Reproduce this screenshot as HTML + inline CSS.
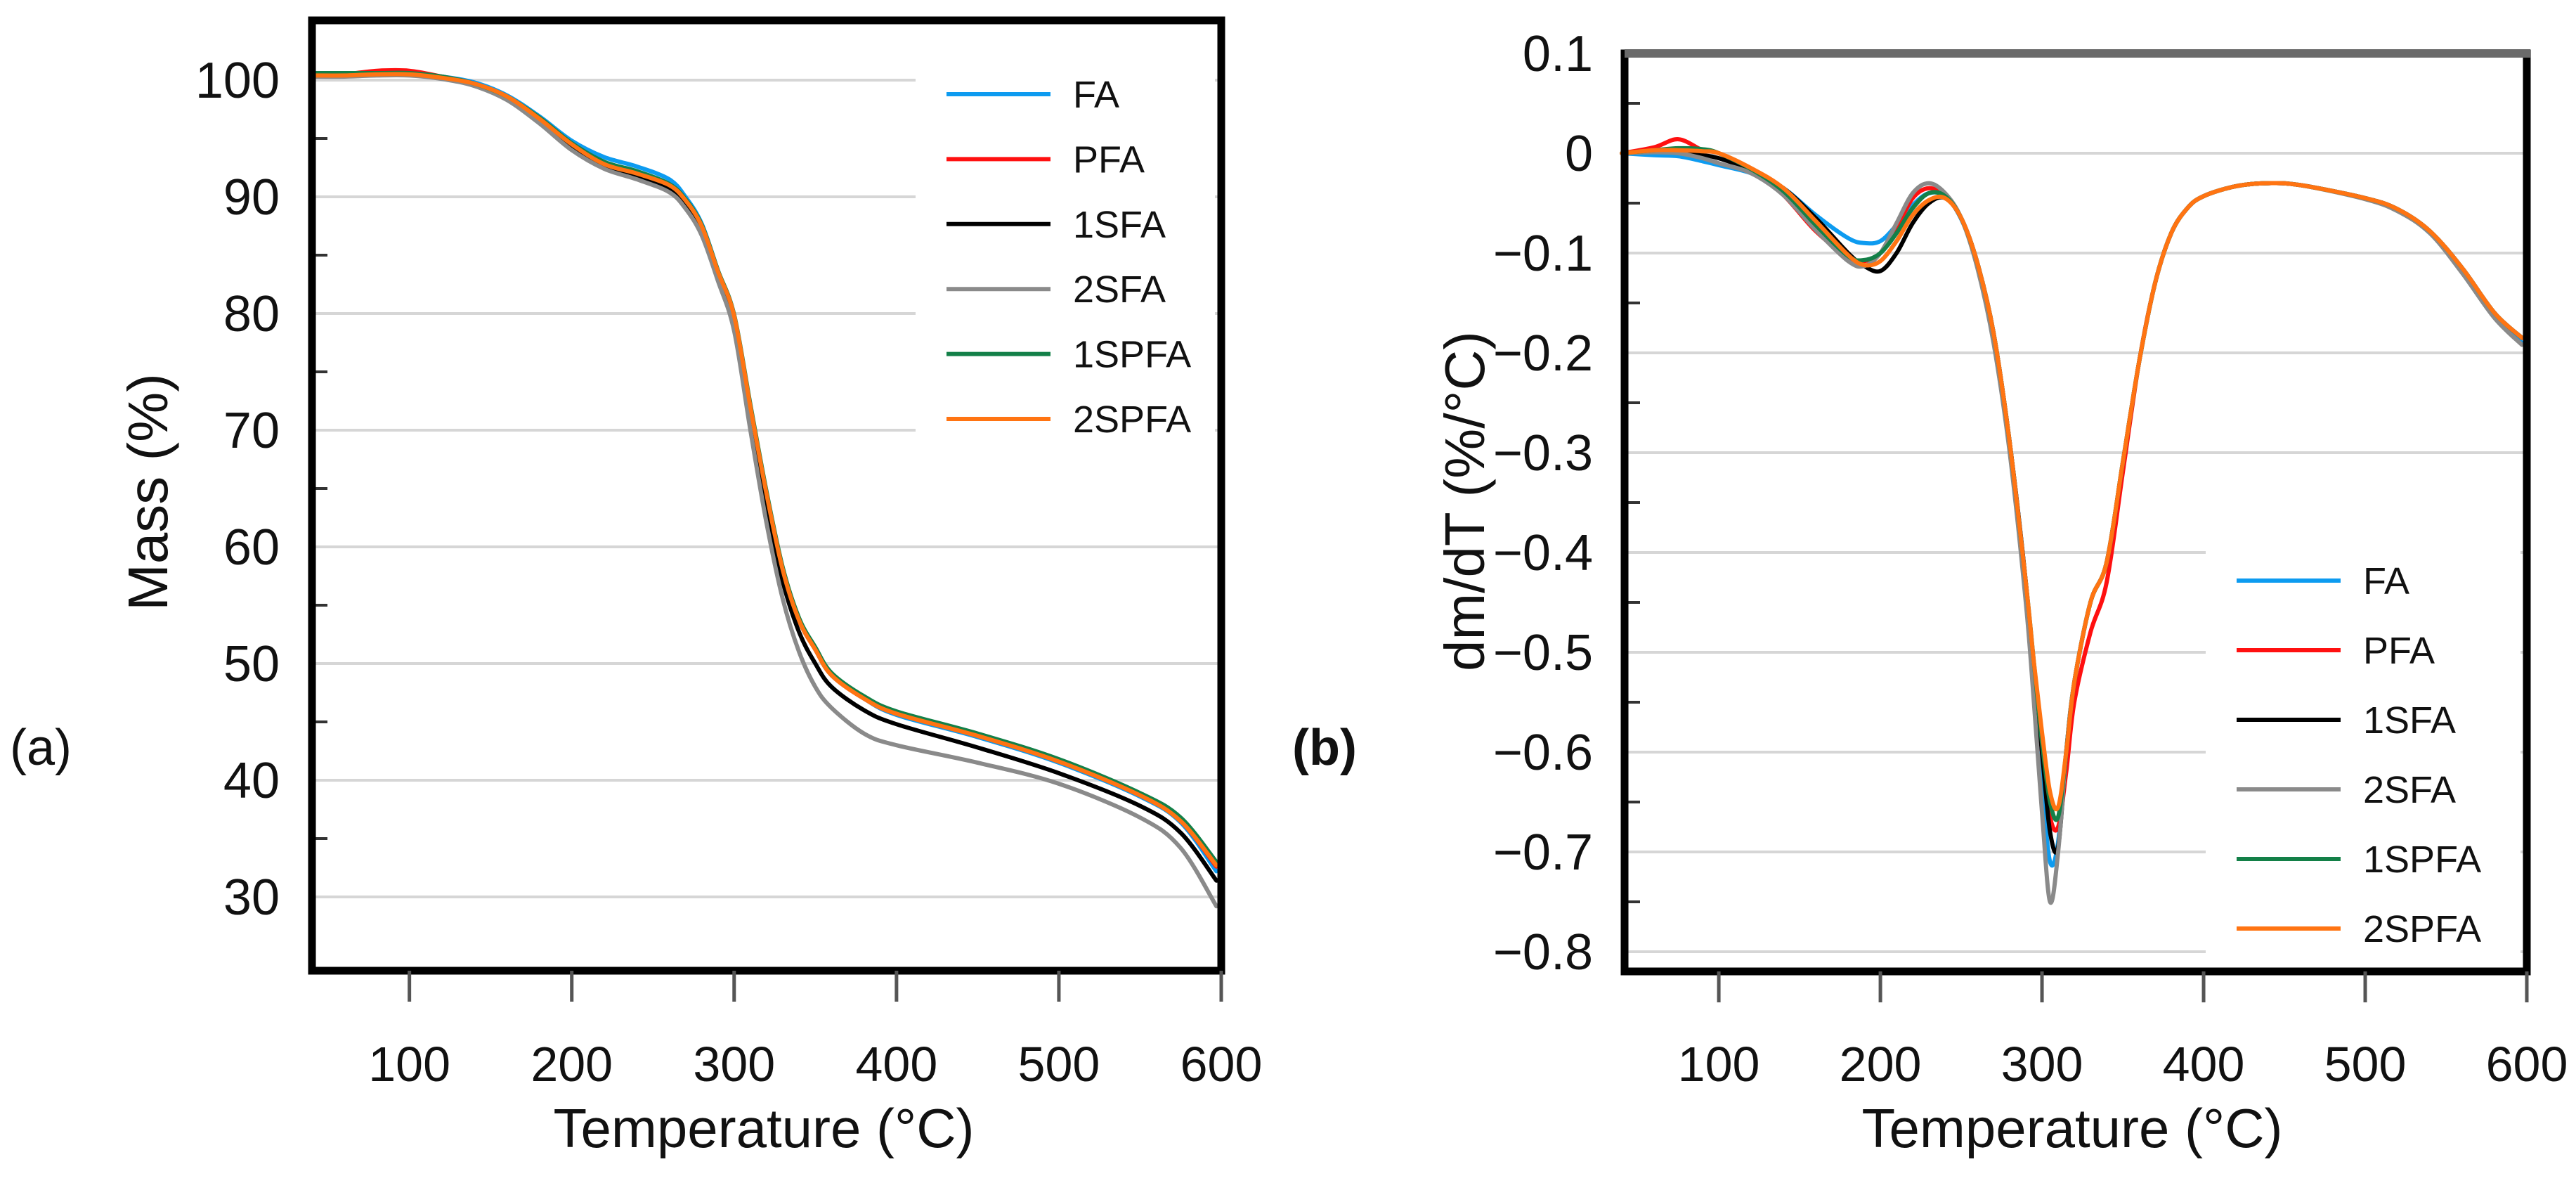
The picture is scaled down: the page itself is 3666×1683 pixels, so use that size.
<!DOCTYPE html>
<html><head><meta charset="utf-8"><style>
html,body{margin:0;padding:0;background:#fff;}
svg{display:block;}
text{font-family:"Liberation Sans",sans-serif;fill:#111;}
</style></head><body>
<svg id="fig" width="3666" height="1683" viewBox="0 0 3666 1683" xmlns="http://www.w3.org/2000/svg"></svg>
<script>
// ---------- data ----------
const seriesNames = ["FA","PFA","1SFA","2SFA","1SPFA","2SPFA"];
const seriesColors = ["#0d9bf0","#ff1010","#000000","#8a8a8a","#138048","#ff7412"];

const tgaTemps = [40,60,80,100,120,140,160,180,200,220,240,260,270,280,290,300,310,320,330,340,350,360,380,400,450,500,550,575,597];
const tgaFA    = [100.5,100.5,100.6,100.6,100.3,99.8,98.7,96.9,94.8,93.4,92.6,91.5,90.0,87.7,83.7,79.8,72,64.5,58,53.7,51.2,49,47,45.6,43.7,41.5,38.6,36.4,32.2];
const tgaPFA   = [100.4,100.5,100.8,100.8,100.3,99.7,98.6,96.7,94.5,92.9,92.1,91.0,89.7,87.5,83.6,79.8,72,64.5,58,53.7,51.2,49,47,45.7,43.8,41.6,38.7,36.5,32.6];
const tga1SFA  = [100.4,100.4,100.5,100.5,100.2,99.6,98.5,96.6,94.3,92.5,91.7,90.6,89.3,87.1,83.1,79.0,71,63.5,57,52.7,50,48,46,44.8,42.8,40.6,37.8,35.5,31.4];
const tga2SFA  = [100.3,100.3,100.4,100.4,100.1,99.5,98.3,96.3,94.0,92.4,91.5,90.4,89.0,86.7,82.8,78.5,70,62,55.5,51,48,46.2,44,43,41.5,39.7,36.8,34.2,29.2];
const tga1SPFA = [100.6,100.6,100.6,100.6,100.3,99.7,98.6,96.8,94.6,93.0,92.2,91.1,89.8,87.6,83.7,79.9,72.2,64.7,58.2,53.9,51.4,49.2,47.2,45.9,44.0,41.8,38.9,36.8,33.0];
const tga2SPFA = [100.4,100.4,100.5,100.5,100.2,99.7,98.6,96.7,94.5,92.8,92.0,91.0,89.7,87.5,83.6,79.8,72,64.5,58,53.7,51.2,49,47,45.7,43.8,41.6,38.7,36.5,32.7];
const tgaXTicks = [100,200,300,400,500,600];
const tgaYTicks = [30,40,50,60,70,80,90,100];

const dtgTemps = [40,60,75,90,100,120,140,160,180,190,200,210,220,230,240,250,260,270,280,290,295,300,305,310,315,320,330,340,350,360,370,380,390,400,420,440,460,500,520,540,560,580,597];
const dtgFA    = [0,-0.002,-0.003,-0.008,-0.012,-0.02,-0.035,-0.062,-0.085,-0.09,-0.088,-0.072,-0.052,-0.04,-0.043,-0.066,-0.11,-0.18,-0.29,-0.43,-0.53,-0.63,-0.71,-0.69,-0.6,-0.53,-0.45,-0.41,-0.31,-0.21,-0.13,-0.08,-0.055,-0.043,-0.033,-0.03,-0.032,-0.045,-0.057,-0.08,-0.118,-0.163,-0.19];
const dtgPFA   = [0,0.006,0.014,0.003,0,-0.017,-0.042,-0.078,-0.104,-0.108,-0.1,-0.075,-0.045,-0.035,-0.043,-0.065,-0.11,-0.18,-0.29,-0.43,-0.52,-0.6,-0.665,-0.675,-0.62,-0.55,-0.48,-0.43,-0.32,-0.21,-0.13,-0.08,-0.055,-0.043,-0.033,-0.03,-0.032,-0.045,-0.056,-0.078,-0.115,-0.16,-0.185];
const dtg1SFA  = [0,0.002,0.002,-0.002,-0.005,-0.017,-0.035,-0.065,-0.1,-0.113,-0.118,-0.1,-0.07,-0.05,-0.045,-0.065,-0.11,-0.18,-0.29,-0.43,-0.52,-0.6,-0.68,-0.695,-0.6,-0.53,-0.45,-0.41,-0.31,-0.21,-0.13,-0.08,-0.055,-0.043,-0.033,-0.03,-0.032,-0.045,-0.056,-0.078,-0.115,-0.16,-0.185];
const dtg2SFA  = [0,0.001,0,-0.005,-0.01,-0.02,-0.042,-0.077,-0.108,-0.113,-0.1,-0.07,-0.04,-0.03,-0.04,-0.065,-0.115,-0.19,-0.3,-0.45,-0.55,-0.66,-0.75,-0.7,-0.6,-0.53,-0.45,-0.41,-0.31,-0.21,-0.13,-0.08,-0.055,-0.043,-0.033,-0.03,-0.032,-0.046,-0.058,-0.08,-0.12,-0.165,-0.192];
const dtg1SPFA = [0,0.003,0.005,0.004,0,-0.016,-0.038,-0.072,-0.103,-0.107,-0.1,-0.08,-0.055,-0.04,-0.043,-0.065,-0.11,-0.18,-0.29,-0.43,-0.51,-0.59,-0.65,-0.665,-0.6,-0.53,-0.45,-0.41,-0.31,-0.21,-0.13,-0.08,-0.055,-0.043,-0.033,-0.03,-0.032,-0.045,-0.056,-0.078,-0.115,-0.16,-0.185];
const dtg2SPFA = [0,0.003,0.003,0.002,0,-0.015,-0.035,-0.068,-0.102,-0.112,-0.108,-0.088,-0.062,-0.047,-0.045,-0.065,-0.11,-0.18,-0.29,-0.43,-0.51,-0.58,-0.64,-0.655,-0.6,-0.53,-0.45,-0.41,-0.31,-0.21,-0.13,-0.08,-0.055,-0.043,-0.033,-0.03,-0.032,-0.045,-0.056,-0.078,-0.115,-0.16,-0.185];
const dtgXTicks = [100,200,300,400,500,600];
const dtgYTicks = [0.1,0,-0.1,-0.2,-0.3,-0.4,-0.5,-0.6,-0.7,-0.8];
const dtgYLabels = ["0.1","0","\u22120.1","\u22120.2","\u22120.3","\u22120.4","\u22120.5","\u22120.6","\u22120.7","\u22120.8"];

// ---------- helpers ----------
const NS="http://www.w3.org/2000/svg";
const svg=document.getElementById('fig');
function mk(tag,attrs,parent){const e=document.createElementNS(NS,tag);for(const k in attrs)e.setAttribute(k,attrs[k]);(parent||svg).appendChild(e);return e;}
function smoothPath(pts){
  let d="M"+pts[0][0].toFixed(1)+","+pts[0][1].toFixed(1);
  for(let i=0;i<pts.length-1;i++){
    const p0=pts[i-1]||pts[i],p1=pts[i],p2=pts[i+1],p3=pts[i+2]||p2;
    const c1x=p1[0]+(p2[0]-p0[0])/6,c1y=p1[1]+(p2[1]-p0[1])/6;
    const c2x=p2[0]-(p3[0]-p1[0])/6,c2y=p2[1]-(p3[1]-p1[1])/6;
    d+=" C"+c1x.toFixed(1)+","+c1y.toFixed(1)+" "+c2x.toFixed(1)+","+c2y.toFixed(1)+" "+p2[0].toFixed(1)+","+p2[1].toFixed(1);
  }
  return d;
}

function drawChart(cfg){
  const g=mk('g',{});
  
  
  const X=t=>cfg.x0+(t-cfg.tMin)*(cfg.x1-cfg.x0)/(cfg.tMax-cfg.tMin);
  const Y=v=>cfg.yRef+(cfg.vRef-v)*cfg.yPer;
  cfg.yTicks.forEach((v,i)=>{
    const gl=mk('line',{x1:cfg.x0,x2:cfg.x1,y1:Y(v),y2:Y(v),stroke:'#d6d6d6','stroke-width':4},g);
    
    
  });
  for(let i=0;i<cfg.yTicks.length-1;i++){
    const v=(cfg.yTicks[i]+cfg.yTicks[i+1])/2;
    const mt=mk('line',{x1:cfg.x0,x2:cfg.x0+22,y1:Y(v),y2:Y(v),stroke:'#333','stroke-width':4},g);
    
    
  }
  const lb=mk('rect',{x:cfg.legX-44,y:cfg.legY0-45,width:cfg.x1-cfg.legX+35,height:cfg.legStep*6+20,fill:'#fff'},g);
  
  
  cfg.series.forEach((vals,si)=>{
    const pts=cfg.temps.map((t,i)=>[X(t),Y(vals[i])]);
    const p=mk('path',{d:smoothPath(pts),fill:'none',stroke:seriesColors[si],'stroke-width':6,'stroke-linejoin':'round','stroke-linecap':'round'},g);
    
    
  });
  const fr=mk('rect',{x:cfg.x0,y:cfg.yTop,width:cfg.x1-cfg.x0,height:cfg.yBot-cfg.yTop,fill:'none',stroke:'#000','stroke-width':11},g);
  
  
  if(cfg.grayTop){
    const tp=mk('line',{x1:cfg.x0,x2:cfg.x1+5,y1:cfg.yTop,y2:cfg.yTop,stroke:'#6a6a6a','stroke-width':12},g);
    
    
  }
  cfg.xTicks.forEach(t=>{
    const tk=mk('line',{x1:X(t),x2:X(t),y1:cfg.yBot,y2:cfg.yBot+44,stroke:'#555','stroke-width':5},g);
    
    
    const tx=mk('text',{x:X(t),y:1538,'text-anchor':'middle','font-size':70},g);
    tx.textContent=String(t);
    
    
  });
  cfg.yTicks.forEach((v,i)=>{
    const ty=mk('text',{x:cfg.labelRight,y:Y(v)+25,'text-anchor':'end','font-size':72},g);
    ty.textContent=cfg.yLabels[i];
    
    
  });
  const xt=mk('text',{x:cfg.xTitleX,y:1632,'text-anchor':'middle','font-size':78},g);
  xt.textContent='Temperature (°C)';
  
  
  const yt=mk('text',{x:0,y:0,'text-anchor':'middle','font-size':80,transform:'translate('+(cfg.yTitleX+28)+','+cfg.yTitleY+') rotate(-90)'},g);
  yt.textContent=cfg.yTitle;
  
  
  const pl=mk('text',{x:cfg.panelX,y:1088,'font-size':72,'font-family':'"Liberation Serif",serif','font-weight':cfg.bold?'bold':'normal'},g);
  pl.textContent=cfg.panel;
  
  
  seriesNames.forEach((n,si)=>{
    const ly=cfg.legY0+si*cfg.legStep;
    const le=mk('g',{},g);
    
    
    mk('line',{x1:cfg.legX,x2:cfg.legX+148,y1:ly,y2:ly,stroke:seriesColors[si],'stroke-width':6},le);
    const lt=mk('text',{x:cfg.legX+180,y:ly+19,'font-size':54,fill:'#222'},le);
    lt.textContent=n;
  });
}

drawChart({name:'tga-chart',x0:444,x1:1738,tMin:40,tMax:600,yTop:29,yBot:1381,yRef:114,vRef:100,yPer:16.6,
  temps:tgaTemps,series:[tgaFA,tgaPFA,tga1SFA,tga2SFA,tga1SPFA,tga2SPFA],
  xTicks:tgaXTicks,yTicks:tgaYTicks,yLabels:tgaYTicks.map(String),labelRight:398,
  xTitleX:1087,yTitleX:210,yTitleY:700,yTitle:'Mass (%)',panelX:14,panel:'(a)',bold:false,
  legX:1347,legY0:134,legStep:92.4,grayTop:false});

drawChart({name:'dtg-chart',x0:2312,x1:3596,tMin:41.7,tMax:600,yTop:76,yBot:1382,yRef:218,vRef:0,yPer:1420,
  temps:dtgTemps,series:[dtgFA,dtgPFA,dtg1SFA,dtg2SFA,dtg1SPFA,dtg2SPFA],
  xTicks:dtgXTicks,yTicks:dtgYTicks,yLabels:dtgYLabels,labelRight:2267,
  xTitleX:2949,yTitleX:2084,yTitleY:713,yTitle:'dm/dT (%/°C)',panelX:1839,panel:'(b)',bold:true,
  legX:3183,legY0:826,legStep:99,grayTop:true});
</script>
</body></html>
